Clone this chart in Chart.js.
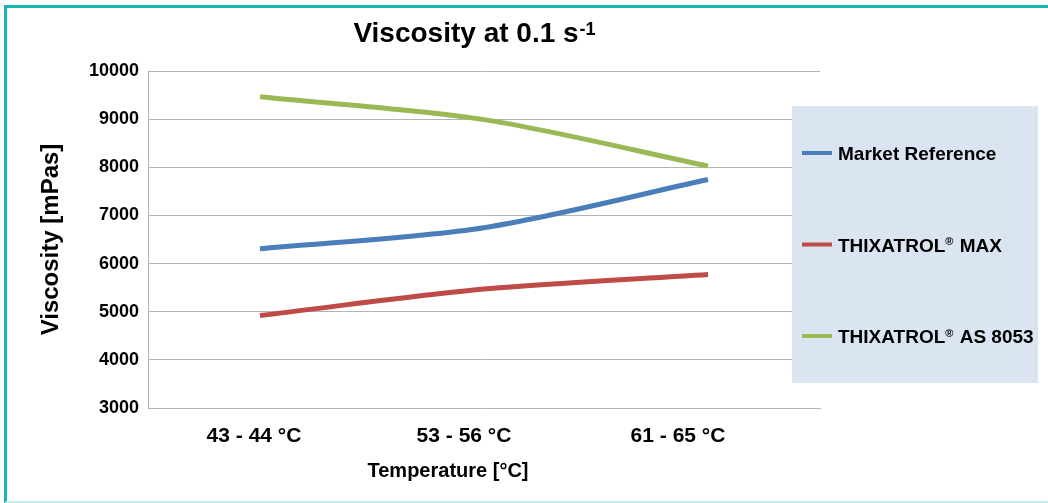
<!DOCTYPE html>
<html>
<head>
<meta charset="utf-8">
<script src="https://cdn.jsdelivr.net/npm/chart.js@4/dist/chart.umd.min.js"></script>
<style>
  body { margin: 0; background: #fff; overflow: hidden; }
  #wrap { position: relative; width: 1048px; height: 503px; }
  #frame {
    position: absolute; left: 4px; top: 5px; width: 1060px; height: 493px;
    border-left: 3px solid #1bb5ad; border-top: 3px solid #1bb5ad;
    border-bottom: 2px solid #c4eeea; pointer-events: none;
  }
</style>
</head>
<body>
<div id="wrap">
  <canvas id="chart" width="1048" height="503"></canvas>
  <div id="frame"></div>
</div>
<script>
// Data
const categories = ['43 - 44 °C', '53 - 56 °C', '61 - 65 °C'];
const marketReference = [6310, 6745, 7745];
const thixatrolMax = [4920, 5470, 5775];
const thixatrolAs8053 = [9465, 8990, 8025];
const seriesNames = ['Market Reference', 'THIXATROL® MAX', 'THIXATROL® AS 8053'];
const seriesColors = ['#4a7ebb', '#be4b48', '#98b954'];
const yMin = 3000, yMax = 10000, yStep = 1000;

const FONT = 'Liberation Sans, Arial, sans-serif';

// the original's category labels sit a bit left of the category centres
const labelShift = [-6, -20, -30];

// Title with superscript "-1"
const titlePlugin = {
    id: 'titleSup',
    afterDraw(chart) {
        const ctx = chart.ctx;
        ctx.save();
        ctx.fillStyle = '#000';
        ctx.textBaseline = 'alphabetic';
        ctx.font = 'bold 28px ' + FONT;
        const main = 'Viscosity at 0.1 s';
        const mw = ctx.measureText(main).width;
        ctx.font = 'bold 18px ' + FONT;
        const sup = '-1';
        const sw = ctx.measureText(sup).width;
        const x0 = 474 - (mw + sw) / 2;
        ctx.font = 'bold 28px ' + FONT;
        ctx.fillText(main, x0, 42);
        ctx.font = 'bold 18px ' + FONT;
        ctx.fillText(sup, x0 + mw + 1, 35);
        ctx.restore();
    }
};

// Category labels and x title, placed from the x scale
const xLabelPlugin = {
    id: 'xLabels',
    afterDraw(chart) {
        const ctx = chart.ctx;
        const xs = chart.scales.x;
        ctx.save();
        ctx.fillStyle = '#000';
        ctx.textAlign = 'center';
        ctx.textBaseline = 'alphabetic';
        ctx.font = 'bold 21px ' + FONT;
        chart.data.labels.forEach((lab, i) => {
            ctx.fillText(lab, xs.getPixelForValue(i) + labelShift[i], xs.top + 34);
        });
        ctx.font = 'bold 20px ' + FONT;
        ctx.fillText('Temperature [°C]', 448, xs.top + 69);
        ctx.restore();
    }
};

// Legend drawn in a shaded box on the right, like the original
function drawRegText(ctx, text, x, y, size) {
    const parts = text.split('®');
    let cx = x;
    parts.forEach((p, i) => {
        ctx.font = 'bold ' + size + 'px ' + FONT;
        ctx.fillText(p, cx, y);
        cx += ctx.measureText(p).width;
        if (i < parts.length - 1) {
            ctx.font = 'bold ' + Math.round(size * 0.6) + 'px ' + FONT;
            ctx.fillText('®', cx, y - size * 0.33);
            cx += ctx.measureText('®').width + 1;
        }
    });
}

const legendPlugin = {
    id: 'boxLegend',
    afterDraw(chart) {
        const ctx = chart.ctx;
        const area = chart.chartArea;
        const left = area.right - 28;
        const top = 106;
        ctx.save();
        ctx.fillStyle = '#dbe5f1';
        ctx.fillRect(left, top, 1038 - left, 277);
        chart.data.datasets.forEach((ds, i) => {
            const y = 153 + i * 91.5;
            ctx.fillStyle = ds.borderColor;
            ctx.fillRect(left + 10, y - 2, 30, 4);
            ctx.fillStyle = '#000';
            ctx.textBaseline = 'alphabetic';
            drawRegText(ctx, ds.label, left + 46, y + 7, 19);
        });
        ctx.restore();
    }
};

const datasets = [marketReference, thixatrolMax, thixatrolAs8053].map((values, i) => ({
    label: seriesNames[i],
    data: values,
    borderColor: seriesColors[i],
    backgroundColor: seriesColors[i],
    borderWidth: 5,
    borderCapStyle: 'butt',
    pointRadius: 0,
    tension: 0.3,
    fill: false
}));

new Chart(document.getElementById('chart'), {
    type: 'line',
    data: { labels: categories, datasets: datasets },
    options: {
        responsive: false,
        animation: false,
        layout: { padding: { top: 71, right: 228, bottom: 0, left: 0 } },
        plugins: {
            legend: { display: false },
            title: { display: false },
            tooltip: { enabled: false }
        },
        scales: {
            x: {
                offset: true,
                afterFit(scale) { scale.height = 95; },
                grid: { display: false, drawTicks: false },
                border: { display: true, color: '#b4b4b4', width: 1 },
                ticks: { display: false }
            },
            y: {
                min: yMin,
                max: yMax,
                afterFit(scale) { scale.width = 148; },
                grid: { color: '#b4b4b4', lineWidth: 1, drawTicks: false },
                border: { display: true, color: '#b4b4b4', width: 1 },
                ticks: {
                    stepSize: yStep,
                    color: '#000',
                    padding: 9,
                    font: { family: FONT, size: 18, weight: 'bold' },
                    callback: (v) => String(v)
                },
                title: {
                    display: true,
                    text: 'Viscosity [mPas]',
                    color: '#000',
                    font: { family: FONT, size: 24, weight: 'bold' },
                    padding: { top: 37, bottom: 0 }
                }
            }
        }
    },
    plugins: [titlePlugin, xLabelPlugin, legendPlugin]
});
</script>
</body>
</html>
